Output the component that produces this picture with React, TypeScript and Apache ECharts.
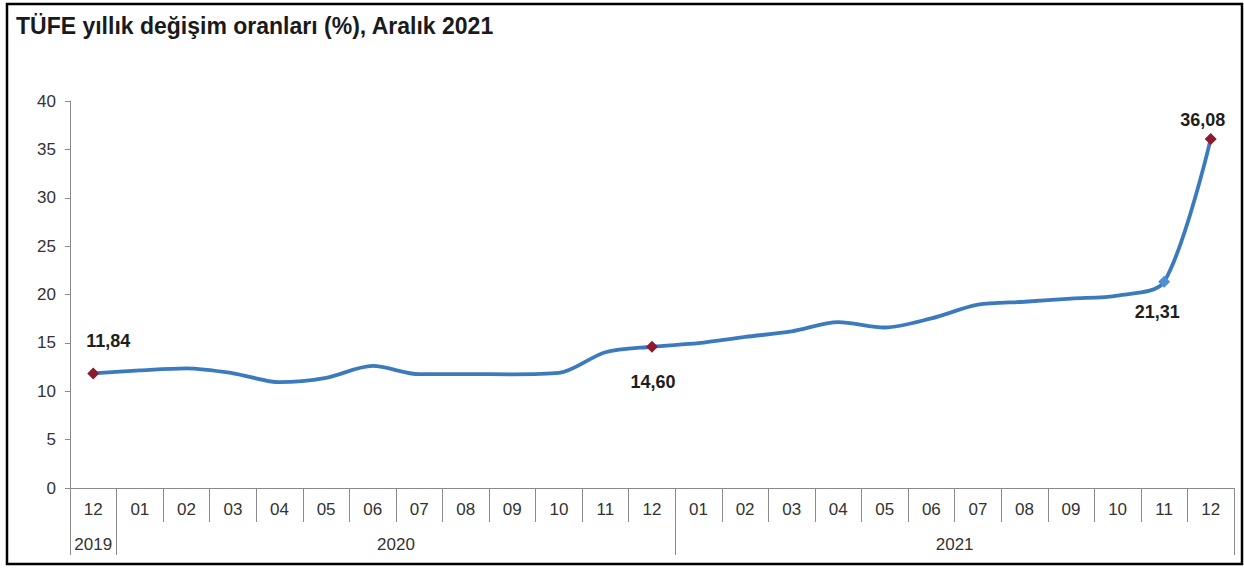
import React, { useEffect, useRef } from "react";
import * as echarts from "echarts";

const titleText = "TÜFE yıllık değişim oranları (%), Aralık 2021";
const months = ["12", "01", "02", "03", "04", "05", "06", "07", "08", "09", "10", "11", "12", "01", "02", "03", "04", "05", "06", "07", "08", "09", "10", "11", "12"];
const years = ["2019", "2020", "2021"];
const yearStarts = [0, 1, 13, 25];
const cpi = [11.84, 12.15, 12.37, 11.86, 10.94, 11.39, 12.62, 11.76, 11.77, 11.75, 11.89, 14.03, 14.6, 14.97, 15.61, 16.19, 17.14, 16.59, 17.53, 18.95, 19.25, 19.58, 19.89, 21.31, 36.08];
const markedIdx = [0, 12, 23, 24];

const FONT = "'Liberation Sans', Arial, sans-serif";
const LINE = "#3b7bbd";
const RED = "#8b1c30";
const GRAY = "#8a8a8a";

export default function App() {
  const ref = useRef<HTMLDivElement>(null);
  useEffect(() => {
    document.body.style.margin = "0";
    const chart = echarts.init(ref.current!, null, { renderer: "svg" });
    const fmt = (v: number) => v.toFixed(2).replace(".", ",");
    const labelCfg: Record<number, any> = {
      0: { position: "top", offset: [15, -12], color: RED },
      12: { position: "bottom", offset: [1, 15], color: RED },
      23: { position: "bottom", offset: [-7, 10], color: "#4f8fd4" },
      24: { position: "top", offset: [-8, 1], color: RED },
    };
    const data = cpi.map((v, i) => {
      if (!markedIdx.includes(i)) return v;
      const c = labelCfg[i];
      return {
        value: v,
        symbol: "diamond",
        symbolSize: 12,
        itemStyle: { color: c.color },
        label: {
          show: true,
          position: c.position,
          offset: c.offset,
          formatter: () => fmt(v),
          fontFamily: FONT,
          fontWeight: "bold",
          fontSize: 18,
          color: "#1e1e1e",
        },
      };
    });
    const yearCenters = yearStarts.slice(0, -1).map((s, i) => (s + yearStarts[i + 1]) / 2);
    chart.setOption({
      animation: false,
      backgroundColor: "#ffffff",
      title: {
        text: titleText,
        left: 11,
        top: 9,
        textStyle: { fontFamily: FONT, fontWeight: "bold", fontSize: 23, color: "#1a1a1a" },
      },
      grid: { left: 70, right: 10, top: 101, bottom: 80 },
      xAxis: [
        {
          type: "category",
          data: months,
          boundaryGap: true,
          axisLine: { show: true, lineStyle: { color: GRAY, width: 1 } },
          axisTick: { show: true, interval: 0, length: 34, lineStyle: { color: GRAY } },
          axisLabel: { interval: 0, margin: 13, fontFamily: FONT, fontSize: 17, color: "#333" },
          splitLine: { show: false },
        },
        {
          type: "value",
          position: "bottom",
          min: 0,
          max: 25,
          axisLine: { show: false },
          axisTick: { show: true, customValues: yearStarts, length: 67, lineStyle: { color: GRAY } },
          axisLabel: {
            show: true,
            customValues: yearCenters,
            margin: 48,
            fontFamily: FONT,
            fontSize: 17,
            color: "#333",
            formatter: (v: number) => {
              const i = yearCenters.findIndex((c) => Math.abs(c - v) < 0.01);
              return i >= 0 ? years[i] : "";
            },
          },
          splitLine: { show: false },
        },
      ],
      yAxis: {
        type: "value",
        min: 0,
        max: 40,
        interval: 5,
        axisLine: { show: true, lineStyle: { color: GRAY } },
        axisTick: { show: true, length: 5, lineStyle: { color: GRAY } },
        axisLabel: { margin: 14, fontFamily: FONT, fontSize: 17, color: "#333" },
        splitLine: { show: false },
      },
      series: [
        {
          type: "line",
          data,
          symbol: "none",
          smooth: 0.3,
          lineStyle: { color: LINE, width: 3.8 },
          itemStyle: { color: LINE },
          z: 3,
        },
      ],
      graphic: [
        {
          type: "rect",
          shape: { x: 7, y: 4, width: 1235, height: 560 },
          style: { fill: "none", stroke: "#000", lineWidth: 2.5 },
          silent: true,
        },
      ],
    });
    return () => chart.dispose();
  }, []);
  return <div ref={ref} style={{ width: 1244, height: 568 }} />;
}
